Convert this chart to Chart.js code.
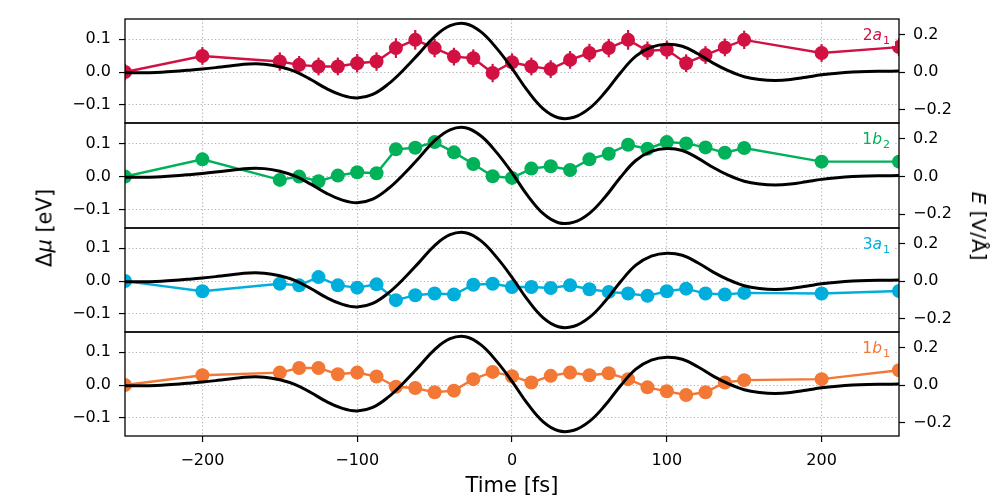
<!DOCTYPE html>
<html><head><meta charset="utf-8">
<script src="https://cdn.jsdelivr.net/npm/chart.js@4.4.1/dist/chart.umd.min.js"></script>
<style>
html,body{margin:0;padding:0;background:#fff;}
#wrap{position:relative;width:1001px;height:500px;overflow:hidden;background:#fff;}
canvas{position:absolute;left:0;}
.lab{position:absolute;font-family:"DejaVu Sans";font-size:21px;line-height:1;color:#000;white-space:nowrap;}
</style></head><body>
<div id="wrap">
<canvas id="c0"></canvas><canvas id="c1"></canvas><canvas id="c2"></canvas><canvas id="c3"></canvas>
<div class="lab" id="ylab" style="left:45px;top:228px;transform:translate(-50%,-50%) rotate(-90deg);">Δ<i>μ</i> [eV]</div>
<div class="lab" id="y2lab" style="left:979px;top:226px;font-size:20px;transform:translate(-50%,-50%) rotate(90deg);"><i>E</i> [V/Å]</div>
<div class="lab" id="xlab" style="left:512px;top:485px;transform:translate(-50%,-50%);">Time [fs]</div>
</div>
<script>
// ---- data ----
const TIME = [-250,-200,-150,-137.5,-125,-112.5,-100,-87.5,-75,-62.5,-50,-37.5,-25,-12.5,0,12.5,25,37.5,50,62.5,75,87.5,100,112.5,125,137.5,150,200,250];
const MU_2A1 = [0.000,0.049,0.032,0.022,0.017,0.017,0.027,0.032,0.073,0.098,0.073,0.047,0.042,-0.003,0.030,0.017,0.009,0.037,0.058,0.073,0.098,0.065,0.068,0.027,0.052,0.075,0.098,0.058,0.076];
const ERR_2A1 = [0.025,0.027,0.028,0.027,0.027,0.027,0.028,0.028,0.030,0.030,0.028,0.027,0.027,0.028,0.027,0.027,0.027,0.027,0.028,0.028,0.030,0.028,0.028,0.027,0.027,0.027,0.028,0.027,0.027];
const MU_1B2 = [0.000,0.052,-0.010,0.000,-0.014,0.003,0.013,0.010,0.082,0.087,0.104,0.073,0.038,0.001,-0.004,0.024,0.031,0.020,0.052,0.069,0.096,0.084,0.104,0.100,0.088,0.072,0.086,0.045,0.045];
const MU_3A1 = [0.000,-0.031,-0.008,-0.013,0.012,-0.013,-0.020,-0.010,-0.058,-0.043,-0.038,-0.041,-0.011,-0.008,-0.018,-0.018,-0.021,-0.013,-0.025,-0.033,-0.038,-0.045,-0.031,-0.023,-0.038,-0.041,-0.036,-0.038,-0.030];
const MU_1B1 = [0.000,0.030,0.038,0.052,0.052,0.033,0.038,0.026,-0.005,-0.009,-0.022,-0.017,0.018,0.040,0.027,0.008,0.028,0.038,0.030,0.036,0.018,-0.007,-0.019,-0.030,-0.022,0.008,0.015,0.018,0.045];
const FIELD_T = [-250,-240,-230,-220,-210,-200,-190,-180,-170,-160,-150,-140,-130,-120,-110,-100,-90,-80,-70,-60,-50,-40,-30,-20,-10,0,10,20,30,40,50,60,70,80,90,100,110,120,130,140,150,160,170,180,190,200,210,220,230,240,250];
const FIELD_E = [-0.004,-0.004,-0.002,0.003,0.009,0.016,0.025,0.035,0.043,0.042,0.028,0.002,-0.040,-0.088,-0.124,-0.139,-0.120,-0.065,0.012,0.100,0.190,0.248,0.259,0.215,0.128,0.020,-0.100,-0.196,-0.245,-0.242,-0.195,-0.110,-0.005,0.085,0.133,0.149,0.138,0.098,0.048,0.006,-0.025,-0.040,-0.045,-0.040,-0.028,-0.015,-0.006,0.000,0.003,0.004,0.005];
const X_TICKS = [-200,-100,0,100,200];
const MU_TICKS = [-0.1,0,0.1];
const E_TICKS = [-0.2,0,0.2];
const PANEL_NAMES = [['2','a','1'],['1','b','2'],['3','a','1'],['1','b','1']];
const PANEL_COLORS = ['#d11141','#00b159','#00aedb','#f37735'];
const PANEL_SERIES = [MU_2A1, MU_1B2, MU_3A1, MU_1B1];

// ---- layout ----
const PT = [19,123,228,332,436];
const M = 25;
const FONT = 'DejaVu Sans';
const TICK_SIZE = 16;
const minus = v => (v < 0 ? '\u2212' : '') + Math.abs(v);
const fmtX = v => minus(v);
const fmt1 = v => (v < 0 ? '\u2212' : '') + Math.abs(v).toFixed(1);

const framePlugin = {
  id: 'frame',
  afterDraw(chart) {
    const a = chart.chartArea, c = chart.ctx;
    c.save(); c.strokeStyle = '#000'; c.lineWidth = 1.3;
    c.strokeRect(a.left, a.top, a.right - a.left, a.bottom - a.top);
    c.restore();
  }
};
const labelPlugin = {
  id: 'plabel',
  afterDraw(chart, args, opts) {
    const a = chart.chartArea, c = chart.ctx;
    const parts = opts.parts; if (!parts) return;
    c.save();
    const f1 = '15.5px "' + FONT + '"', f2 = 'italic 15.5px "' + FONT + '"', f3 = '11px "' + FONT + '"';
    c.font = f1; const w1 = c.measureText(parts[0]).width;
    c.font = f2; const w2 = c.measureText(parts[1]).width;
    c.font = f3; const w3 = c.measureText(parts[2]).width;
    const total = w1 + w2 + w3 + 1;
    const right = a.right - 9, base = a.top + 21;
    const x0 = right - total;
    c.fillStyle = '#fff';
    c.fillRect(x0 - 3, a.top + 7, total + 8, 20);
    c.fillStyle = opts.color; c.textBaseline = 'alphabetic'; c.textAlign = 'left';
    c.font = f1; c.fillText(parts[0], x0, base);
    c.font = f2; c.fillText(parts[1], x0 + w1, base);
    c.font = f3; c.fillText(parts[2], x0 + w1 + w2 + 1, base + 3.5);
    c.restore();
  }
};
const errPlugin = {
  id: 'errbars',
  beforeDatasetsDraw(chart, args, opts) {
    if (!opts.err) return;
    const a = chart.chartArea, c = chart.ctx, x = chart.scales.x, y = chart.scales.y;
    c.save(); c.beginPath(); c.rect(a.left, a.top, a.right - a.left, a.bottom - a.top); c.clip();
    c.strokeStyle = opts.color; c.lineWidth = 2.2;
    TIME.forEach((t, k) => {
      const v = opts.vals[k], e = opts.err[k];
      const px = x.getPixelForValue(t);
      c.beginPath(); c.moveTo(px, y.getPixelForValue(v + e)); c.lineTo(px, y.getPixelForValue(v - e)); c.stroke();
    });
    c.restore();
  }
};

function makeChart(i) {
  const last = i === 3;
  const h = PT[i + 1] - PT[i];
  const cTop = PT[i] - M;
  const cH = last ? 500 - cTop : h + 2 * M;
  const xH = last ? cH - M - h : 0;
  const cv = document.getElementById('c' + i);
  cv.width = 1001; cv.height = cH;
  cv.style.top = cTop + 'px'; cv.style.width = '1001px'; cv.style.height = cH + 'px';
  const color = PANEL_COLORS[i], vals = PANEL_SERIES[i];
  new Chart(cv, {
    type: 'line',
    data: { datasets: [
      { label: 'E', data: FIELD_T.map((t, k) => ({ x: t, y: FIELD_E[k] })), yAxisID: 'yE',
        borderColor: '#000', borderWidth: 3, pointRadius: 0, tension: 0.4,
        order: 0, clip: 0, fill: false },
      { label: PANEL_NAMES[i].join(''), data: TIME.map((t, k) => ({ x: t, y: vals[k] })), yAxisID: 'y',
        borderColor: color, backgroundColor: color, borderWidth: 2.4, pointRadius: 7,
        pointBackgroundColor: color, pointBorderWidth: 0, tension: 0, order: 1, clip: 0, fill: false }
    ] },
    options: {
      responsive: false, animation: false, events: [],
      layout: { padding: { top: M, bottom: last ? 0 : M, left: 0, right: 0 } },
      plugins: {
        legend: { display: false }, tooltip: { enabled: false },
        plabel: { parts: PANEL_NAMES[i], color: color },
        errbars: i === 0 ? { err: ERR_2A1, vals: vals, color: color } : {}
      },
      scales: {
        x: {
          type: 'linear', min: -250, max: 250, position: 'bottom',
          afterBuildTicks: s => { s.ticks = X_TICKS.map(v => ({ value: v })); },
          afterFit: s => { s.height = xH; s.paddingLeft = 0; s.paddingRight = 0; },
          ticks: { display: last, color: '#000', font: { family: FONT, size: TICK_SIZE }, padding: 9,
                   maxRotation: 0, autoSkip: false, callback: fmtX },
          grid: { color: '#b0b0b0', lineWidth: 1.1, drawTicks: last, tickLength: 6,
                  tickColor: '#000', tickWidth: 1.2, tickBorderDash: [] },
          border: { display: false, dash: [1.2, 2.4] }
        },
        y: {
          type: 'linear', position: 'left', min: -0.155, max: 0.1615,
          afterBuildTicks: s => { s.ticks = MU_TICKS.map(v => ({ value: v })); },
          afterFit: s => { s.width = 125; s.paddingTop = 0; s.paddingBottom = 0; },
          ticks: { color: '#000', font: { family: FONT, size: TICK_SIZE }, padding: 8, callback: fmt1 },
          grid: { color: '#b0b0b0', lineWidth: 1.1, drawTicks: true, tickLength: 6,
                  tickColor: '#000', tickWidth: 1.2, tickBorderDash: [] },
          border: { display: false, dash: [1.2, 2.4] }
        },
        yE: {
          type: 'linear', position: 'right', min: -0.273, max: 0.284,
          afterBuildTicks: s => { s.ticks = E_TICKS.map(v => ({ value: v })); },
          afterFit: s => { s.width = 102; s.paddingTop = 0; s.paddingBottom = 0; },
          ticks: { color: '#000', font: { family: FONT, size: TICK_SIZE }, padding: 8, callback: fmt1 },
          grid: { drawOnChartArea: false, drawTicks: true, tickLength: 6,
                  tickColor: '#000', tickWidth: 1.2, tickBorderDash: [] },
          border: { display: false }
        }
      }
    },
    plugins: [errPlugin, framePlugin, labelPlugin]
  });
}
for (let i = 0; i < 4; i++) makeChart(i);
</script>
</body></html>
